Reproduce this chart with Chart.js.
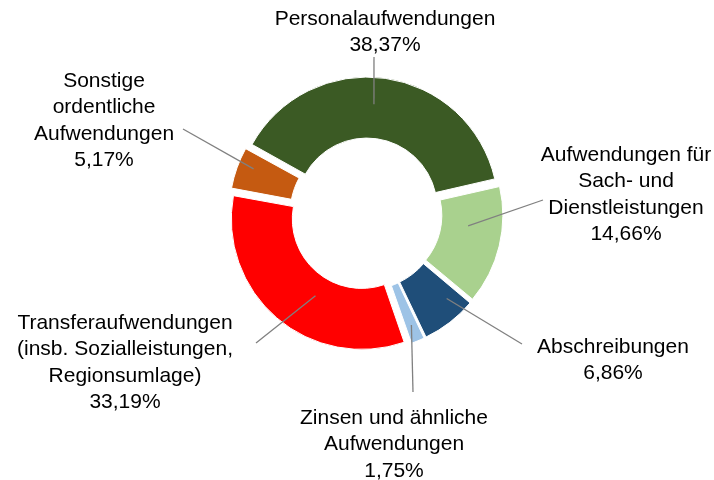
<!DOCTYPE html>
<html lang="de">
<head>
<meta charset="utf-8">
<title>Aufwendungen</title>
<script src="https://cdn.jsdelivr.net/npm/chart.js@4.4.1/dist/chart.umd.min.js"></script>
<style>
  html, body { margin: 0; padding: 0; background: #fff; }
  #wrap { width: 714px; height: 480px; }
</style>
</head>
<body>
<div id="wrap"><canvas id="chart" width="714" height="480"></canvas></div>
<script>
const categories = [
    ['Personalaufwendungen'],
    ['Aufwendungen für', 'Sach- und', 'Dienstleistungen'],
    ['Abschreibungen'],
    ['Zinsen und ähnliche', 'Aufwendungen'],
    ['Transferaufwendungen', '(insb. Sozialleistungen,', 'Regionsumlage)'],
    ['Sonstige', 'ordentliche', 'Aufwendungen']
];
const shares = [38.37, 14.66, 6.86, 1.75, 33.19, 5.17];
const colors = ['#3b5a24', '#a9d18e', '#1f4e79', '#9dc3e6', '#ff0000', '#c55a11'];

// where each label sits: text centre x / first line y, leader end near the text,
// and the leader start inside the slice (fraction along the slice, fraction across the ring)
const labelLayout = [
    { x: 385, y: 19,  ex: 374, ey: 57,  at: 0.47, rf: 0.56 },
    { x: 626, y: 155, ex: 543, ey: 200, at: 0.36, rf: 0.44 },
    { x: 613, y: 347, ex: 522, ey: 344, at: 0.25, rf: 0.67 },
    { x: 394, y: 418, ex: 413, ey: 392, at: 0.50, rf: 0.72 },
    { x: 125, y: 323, ex: 256, ey: 343, at: 0.42, rf: 0.33 },
    { x: 104, y: 81,  ex: 183, ey: 129, at: 0.62, rf: 0.74 }
];

const FONT = '21px "Liberation Sans", Arial, sans-serif';
const LINE_H = 26.5;

function pct(v) {
    return v.toFixed(2).replace('.', ',') + '%';
}

// Chart.js moves an exploded arc by offset/4 and also grows small arcs a bit,
// so scale the offset per slice to get an even explosion like the original
const explode = shares.map(v => {
    const circ = v / 100 * 2 * Math.PI;
    return 30 / (2 - Math.sin(Math.min(Math.PI, circ)));
});

const labelPlugin = {
    id: 'sliceLabels',
    afterDatasetsDraw(chart) {
        const ctx = chart.ctx;
        const meta = chart.getDatasetMeta(0);
        ctx.save();
        meta.data.forEach((arc, i) => {
            const L = labelLayout[i];
            const p = arc.getProps(['x', 'y', 'startAngle', 'endAngle', 'innerRadius', 'outerRadius', 'circumference'], true);
            const off = (arc.options.offset || 0) / 4;
            const fix = 1 - Math.sin(Math.min(Math.PI, p.circumference));
            const mid = (p.startAngle + p.endAngle) / 2;
            const a = p.startAngle + L.at * (p.endAngle - p.startAngle);
            const r = p.innerRadius + off * fix + L.rf * (p.outerRadius - p.innerRadius);
            const sx = p.x + Math.cos(mid) * off + Math.cos(a) * r;
            const sy = p.y + Math.sin(mid) * off + Math.sin(a) * r;

            ctx.strokeStyle = '#808080';
            ctx.lineWidth = 1.3;
            ctx.beginPath();
            ctx.moveTo(sx, sy);
            ctx.lineTo(L.ex, L.ey);
            ctx.stroke();

            const lines = categories[i].concat([pct(shares[i])]);
            ctx.fillStyle = '#000';
            ctx.font = FONT;
            ctx.textAlign = 'center';
            ctx.textBaseline = 'middle';
            lines.forEach((t, j) => {
                ctx.fillText(t, L.x, L.y + j * LINE_H);
            });
        });
        ctx.restore();
    }
};

new Chart(document.getElementById('chart'), {
    type: 'doughnut',
    data: {
        labels: categories.map(c => c.join(' ')),
        datasets: [{
            data: shares,
            backgroundColor: colors,
            borderColor: '#ffffff',
            borderWidth: 1,
            offset: explode
        }]
    },
    options: {
        responsive: false,
        animation: false,
        rotation: -61,
        radius: 129.5,
        cutout: '52.9%',
        layout: { padding: { left: 18, right: 0, top: 0, bottom: 52 } },
        plugins: {
            legend: { display: false },
            tooltip: { enabled: false }
        }
    },
    plugins: [labelPlugin]
});
</script>
</body>
</html>
